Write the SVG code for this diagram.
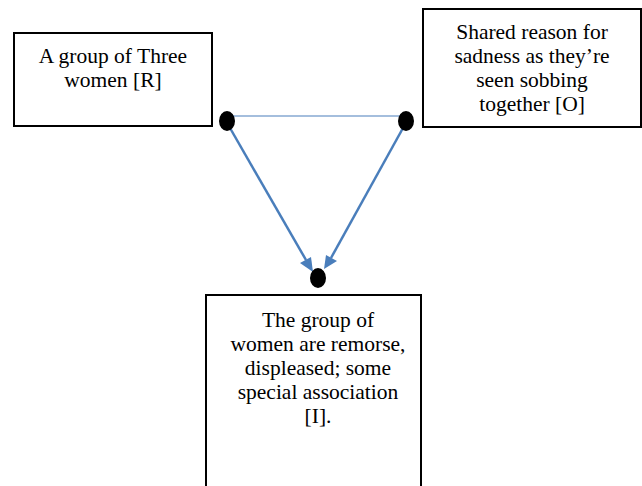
<svg xmlns="http://www.w3.org/2000/svg" width="642" height="486" viewBox="0 0 642 486">
<style>
.box{fill:#fff;stroke:#000;stroke-width:2}
.t{font-family:"Liberation Serif","Times New Roman",serif;font-size:21.5px;fill:#000;text-anchor:middle}
.dot{fill:#000}
.c{stroke:#4a7ebb;fill:none}
</style>
<rect width="642" height="486" fill="#fff"/>
<g id="node-r">
<rect class="box" x="14" y="33" width="198" height="93"/>
<text class="t" x="113" y="63">A group of Three</text>
<text class="t" x="113" y="87">women [R]</text>
</g>
<g id="node-o">
<rect class="box" x="423" y="9" width="218" height="118"/>
<text class="t" x="532" y="39">Shared reason for</text>
<text class="t" x="532" y="63">sadness as they’re</text>
<text class="t" x="532" y="87">seen sobbing</text>
<text class="t" x="532" y="111">together [O]</text>
</g>
<g id="node-i">
<rect class="box" x="206" y="295" width="215" height="200"/>
<text class="t" x="318" y="327">The group of</text>
<text class="t" x="318" y="351">women are remorse,</text>
<text class="t" x="318" y="375">displeased; some</text>
<text class="t" x="318" y="399">special association</text>
<text class="t" x="318" y="423">[I].</text>
</g>
<g id="connectors">
<line class="c" x1="227" y1="116" x2="406" y2="116" stroke-width="1.2"/>
<line class="c" x1="230" y1="128" x2="306" y2="260" stroke-width="2.5"/>
<polygon points="313,272 300,263 311,257" fill="#4a7ebb"/>
<line class="c" x1="403" y1="128" x2="331" y2="258" stroke-width="2.5"/>
<polygon points="324,269 326,255 337,261" fill="#4a7ebb"/>
</g>
<g id="dots">
<ellipse class="dot" cx="227" cy="121" rx="8" ry="10"/>
<ellipse class="dot" cx="406" cy="121" rx="8" ry="10"/>
<ellipse class="dot" cx="318" cy="278" rx="8" ry="10"/>
</g>
</svg>
